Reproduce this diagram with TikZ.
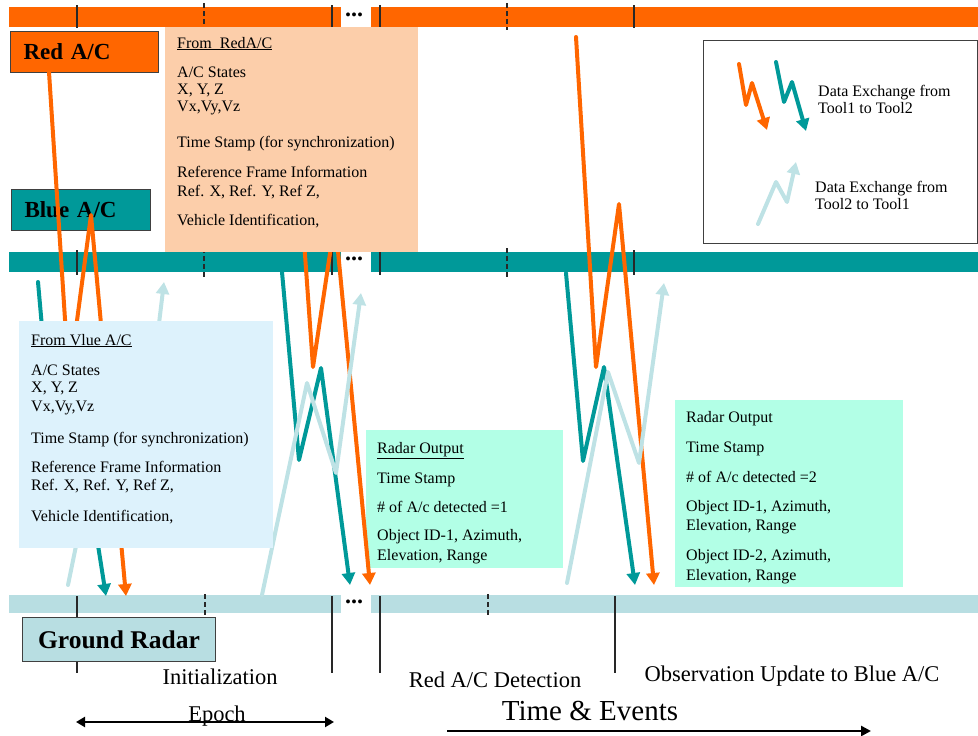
\documentclass[tikz,border=0pt]{standalone}
\usepackage{fontspec}
\setmainfont{Liberation Serif}
\usetikzlibrary{arrows.meta}
\definecolor{redac}{RGB}{255,102,0}
\definecolor{blueac}{RGB}{0,153,153}
\definecolor{radarbar}{RGB}{184,222,226}
\definecolor{radarlink}{RGB}{190,226,229}
\definecolor{peachbox}{RGB}{252,206,170}
\definecolor{skybox}{RGB}{221,242,252}
\definecolor{aquabox}{RGB}{178,255,230}
\definecolor{tickgray}{RGB}{40,40,40}

\begin{document}
\begin{tikzpicture}[x=1pt, y=-1pt,
  tick/.style={draw=tickgray, line width=1.3pt},
  dtick/.style={tick, dash pattern=on 5pt off 3pt},
  tag/.style={draw=black!75, line width=1pt, anchor=north west, inner xsep=13pt, inner ysep=0pt},
  zig/.style={line width=4pt, line join=round, line cap=round, -{Triangle[width=13pt,length=12pt]}},
  info/.style={anchor=base west, align=left, inner sep=0pt, font=\fontsize{16}{17}\selectfont},
  event/.style={font=\fontsize{22.5}{24}\selectfont},
  gapdots/.style={font=\fontsize{24}{24}\bfseries\selectfont, inner sep=0pt}]
 \useasboundingbox (0,0) rectangle (978,736);

 % timelines
 \fill[redac]    (9,7)   rectangle (341,27);  \fill[redac]    (371,7)   rectangle (978,27);
 \fill[blueac]   (9,252) rectangle (341,272); \fill[blueac]   (371,252) rectangle (978,272);
 \fill[radarbar] (9,595) rectangle (341,613); \fill[radarbar] (371,595) rectangle (978,613);
 \node[gapdots] (gapred)  at (354,15)  {...};
 \node[gapdots] (gapblue) at (354,259) {...};
 \node[gapdots] (gapgnd)  at (354,602) {...};

 \foreach \y/\h in {5/28, 250/275}{
   \foreach \x in {77,332,380,634} \draw[tick] (\x,\y) -- (\x,\h);
   \foreach \x in {204,507} \draw[dtick] (\x,\y-2) -- (\x,\h+2);
 }
 \foreach \x in {77,332,380,615} \draw[tick] (\x,596) -- (\x,673);
 \foreach \x in {205,488} \draw[dtick] (\x,594) -- (\x,617);

 % actors
 \node[tag, fill=redac, minimum width=148pt, minimum height=41pt, text width=122pt, align=left,
       font=\fontsize{23}{24}\bfseries\selectfont] (red) at (10,31) {Red A/C};
 \node[tag, fill=blueac, minimum width=139pt, minimum height=41pt, text width=113pt, align=left,
       font=\fontsize{23}{24}\bfseries\selectfont] (blue) at (11,189) {Blue A/C};
 \node[tag, fill=radarbar, minimum width=193pt, minimum height=44pt,
       font=\fontsize{25.5}{26}\bfseries\selectfont] (ground) at (22,617) {Ground Radar};

 \fill[aquabox] (366,430) rectangle (563,568);
 \fill[aquabox] (675,400) rectangle (903,587);

 % data exchanges
 \draw[zig, redac]     (49,72)   -- (69,381)  -- (91,215)  -- (126,596);
 \draw[zig, blueac]    (38,282)  -- (52,440)  -- (72,380)  -- (106,596);
 \draw[zig, radarlink] (68,585)  -- (110,380) -- (145,440) -- (164,282);
 \draw[zig, redac]     (289,30)  -- (313,367) -- (335,220) -- (370,585);
 \draw[zig, blueac]    (282,272) -- (299,460) -- (321,368) -- (350,585);
 \draw[zig, radarlink] (262,595) -- (307,383) -- (336,473) -- (361,293);
 \draw[zig, redac]     (576,37)  -- (596,367) -- (619,204) -- (654,585);
 \draw[zig, blueac]    (566,273) -- (583,461) -- (604,367) -- (635,585);
 \draw[zig, radarlink] (567,583) -- (608,372) -- (639,463) -- (664,283);

 \fill[peachbox] (165,27) rectangle (418,252);
 \fill[skybox]   (19,321) rectangle (273,548);

 % text sits on the baseline of its last line
 \node[info] (redtxt) at (177,225) {\underline{From~ RedA/C}\\[12pt]
   A/C States\\ X, Y, Z\\ Vx,Vy,Vz\\[19pt]
   Time Stamp (for synchronization)\\[13pt]
   Reference Frame Information\\[2pt] Ref. X, Ref. Y, Ref Z,\\[12pt]
   Vehicle Identification,};
 \node[info] (bluetxt) at (31,521) {\underline{From Vlue A/C}\\[13pt]
   A/C States\\ X, Y, Z\\[2pt] Vx,Vy,Vz\\[15pt]
   Time Stamp (for synchronization)\\[12pt]
   Reference Frame Information\\[1pt] Ref. X, Ref. Y, Ref Z,\\[14pt]
   Vehicle Identification,};
 \node[info] (detecttxt) at (377,560) {\underline{Radar Output}\\[13pt]
   Time Stamp\\[12pt] \# of A/c detected =1\\[11pt]
   Object ID-1, Azimuth,\\[3pt] Elevation, Range};
 \node[info] (updatetxt) at (686,580) {Radar Output\\[13pt]
   Time Stamp\\[13pt] \# of A/c detected =2\\[12pt]
   Object ID-1, Azimuth,\\[2pt] Elevation, Range\\[13pt]
   Object ID-2, Azimuth,\\[3pt] Elevation, Range};

 % legend
 \draw[black!75, line width=1pt] (703,40) rectangle (977,243);
 \draw[zig, redac]     (739,64)  -- (746,105) -- (752,83)  -- (767,130);
 \draw[zig, blueac]    (776,62)  -- (784,102) -- (792,82)  -- (806,131);
 \draw[zig, radarlink] (758,224) -- (776,182) -- (787,202) -- (796,162);
 \node[info] (keydown) at (818,113) {Data Exchange from\\Tool1 to Tool2};
 \node[info] (keyup)   at (815,209) {Data Exchange from\\Tool2 to Tool1};

 % phases
 \node[event] (init)   at (220,677) {Initialization};
 \node[event] (detect) at (495,680) {Red A/C Detection};
 \node[event] (update) at (792,676) {Observation Update to Blue A/C};
 \node[event] (epoch)  at (217,716) {Epoch};
 \node[font=\fontsize{29}{30}\selectfont] (timeev) at (590,711) {Time \& Events};
 \coordinate (epochL) at (76,722);
 \coordinate (epochR) at (334,722);
 \coordinate (timeL)  at (447,731);
 \coordinate (timeR)  at (871,731);
 \draw[{Triangle[width=10pt,length=9pt]}-{Triangle[width=10pt,length=9pt]}, line width=2.5pt] (epochL) -- (epochR);
 \draw[-{Triangle[width=10pt,length=10pt]}, line width=2.5pt] (timeL) -- (timeR);
\end{tikzpicture}
\end{document}
